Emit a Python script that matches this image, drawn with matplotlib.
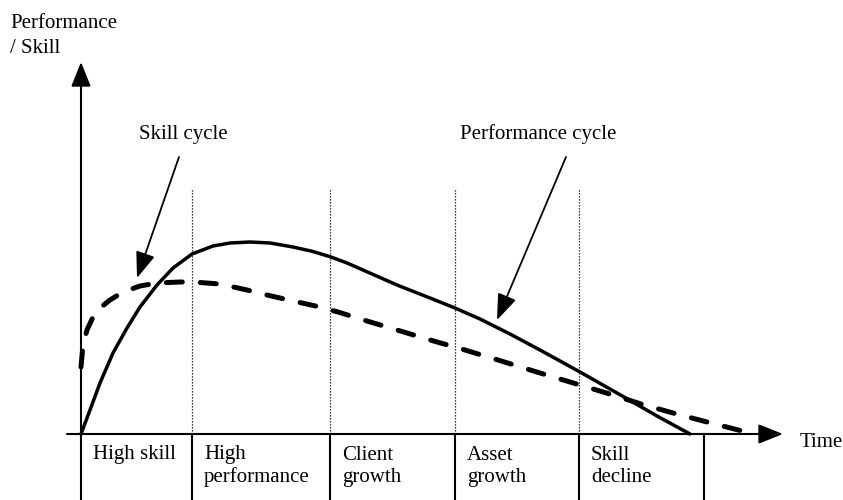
import matplotlib.pyplot as plt

# curves (time vs. level, arbitrary units)
perf_t = [0, 0.9, 1.9, 3.2, 4.6, 5.9, 7.6, 9.2, 11.1, 13.2, 14.9, 16.9, 18.9,
          21.2, 23.2, 25.0, 26.6, 28.2, 31.6, 34.9, 37.4, 39.9, 42.9, 45.9,
          49.9, 53.6, 57.6, 60.9]
perf_v = [0, 2.4, 5.1, 8.1, 10.6, 12.7, 14.9, 16.6, 18.0, 18.8, 19.1, 19.2, 19.1,
          18.7, 18.25, 17.7, 17.1, 16.4, 14.9, 13.6, 12.6, 11.5, 10.0, 8.4,
          6.2, 4.1, 1.8, 0]

skill_t = [0, 0.2, 0.6, 1.2, 1.9, 2.9, 4.2, 5.9, 7.6, 9.9, 11.2, 13.9, 16.6,
           18.6, 21.2, 23.9, 25.7, 28.6, 31.6, 35.6, 37.4, 41.7, 45.9, 49.9,
           53.2, 56.0, 59.2, 62.6, 66.9]
skill_v = [6.7, 8.9, 10.4, 11.7, 12.6, 13.4, 14.2, 14.8, 15.1, 15.2, 15.2, 15.0,
           14.4, 13.9, 13.3, 12.7, 12.2, 11.3, 10.4, 9.2, 8.7, 7.4, 6.1, 4.9,
           3.9, 3.0, 2.1, 1.2, 0.1]

phase_edges = [0, 11.1, 24.9, 37.4, 49.8, 62.3]
phase_labels = ["High skill", "High\nperformance", "Client\ngrowth",
                "Asset\ngrowth", "Skill\ndecline"]

plt.rcParams['font.family'] = ['Liberation Serif', 'DejaVu Serif']

fig = plt.figure(figsize=(8.43, 5.0), dpi=100)
ax = fig.add_axes([0, 0, 1, 1])
ax.set_xlim(-8.1, 76.2)
ax.set_ylim(-6.6, 43.4)
ax.axis('off')

fs = 15

# dotted phase separators above the axis
for e in phase_edges[1:-1]:
    ax.plot([e, e], [0, 24.6], color='black', lw=0.9, linestyle=(0, (1, 1.4)))

# table below the axis
for e in phase_edges:
    ax.plot([e, e], [0, -6.6], color='black', lw=1.5)
for e, lab in zip(phase_edges[:-1], phase_labels):
    ax.text(e + 1.2, -2.55, lab.split('\n')[0], fontsize=fs, va='baseline',
            ha='left')
    if '\n' in lab:
        ax.text(e + 1.2, -4.8, lab.split('\n')[1], fontsize=fs,
                va='baseline', ha='left')

# axes with arrow heads
arrow = dict(arrowstyle='-|>,head_length=0.75,head_width=0.3', lw=1.5,
             color='black', mutation_scale=20, shrinkA=0, shrinkB=0)
ax.annotate('', xy=(70.2, 0), xytext=(-1.4, 0), arrowprops=arrow)
ax.annotate('', xy=(0, 37.2), xytext=(0, 0), arrowprops=arrow)

# curves
ax.plot(perf_t, perf_v, color='black', lw=2.5, solid_joinstyle='round',
        solid_capstyle='round')
ax.plot(skill_t, skill_v, color='black', lw=3.6, dashes=(3.2, 3.6),
        dash_capstyle='round', dash_joinstyle='round')

# labels
ax.text(-7.1, 40.6, "Performance", fontsize=fs, va='baseline', ha='left')
ax.text(-7.1, 38.1, "/ Skill", fontsize=fs, va='baseline', ha='left')
ax.text(71.9, -1.3, "Time", fontsize=fs, va='baseline', ha='left')
ax.text(5.8, 29.5, "Skill cycle", fontsize=fs, va='baseline', ha='left')
ax.text(37.9, 29.5, "Performance cycle", fontsize=fs, va='baseline', ha='left')

pointer = dict(arrowstyle='-|>,head_length=0.8,head_width=0.3', lw=1.3,
               color='black', mutation_scale=20, shrinkA=0, shrinkB=0)
ax.annotate('', xy=(5.6, 15.6), xytext=(9.8, 27.7), arrowprops=pointer)
ax.annotate('', xy=(41.6, 11.4), xytext=(48.5, 27.7), arrowprops=pointer)

fig.savefig('out.png', dpi=100)
